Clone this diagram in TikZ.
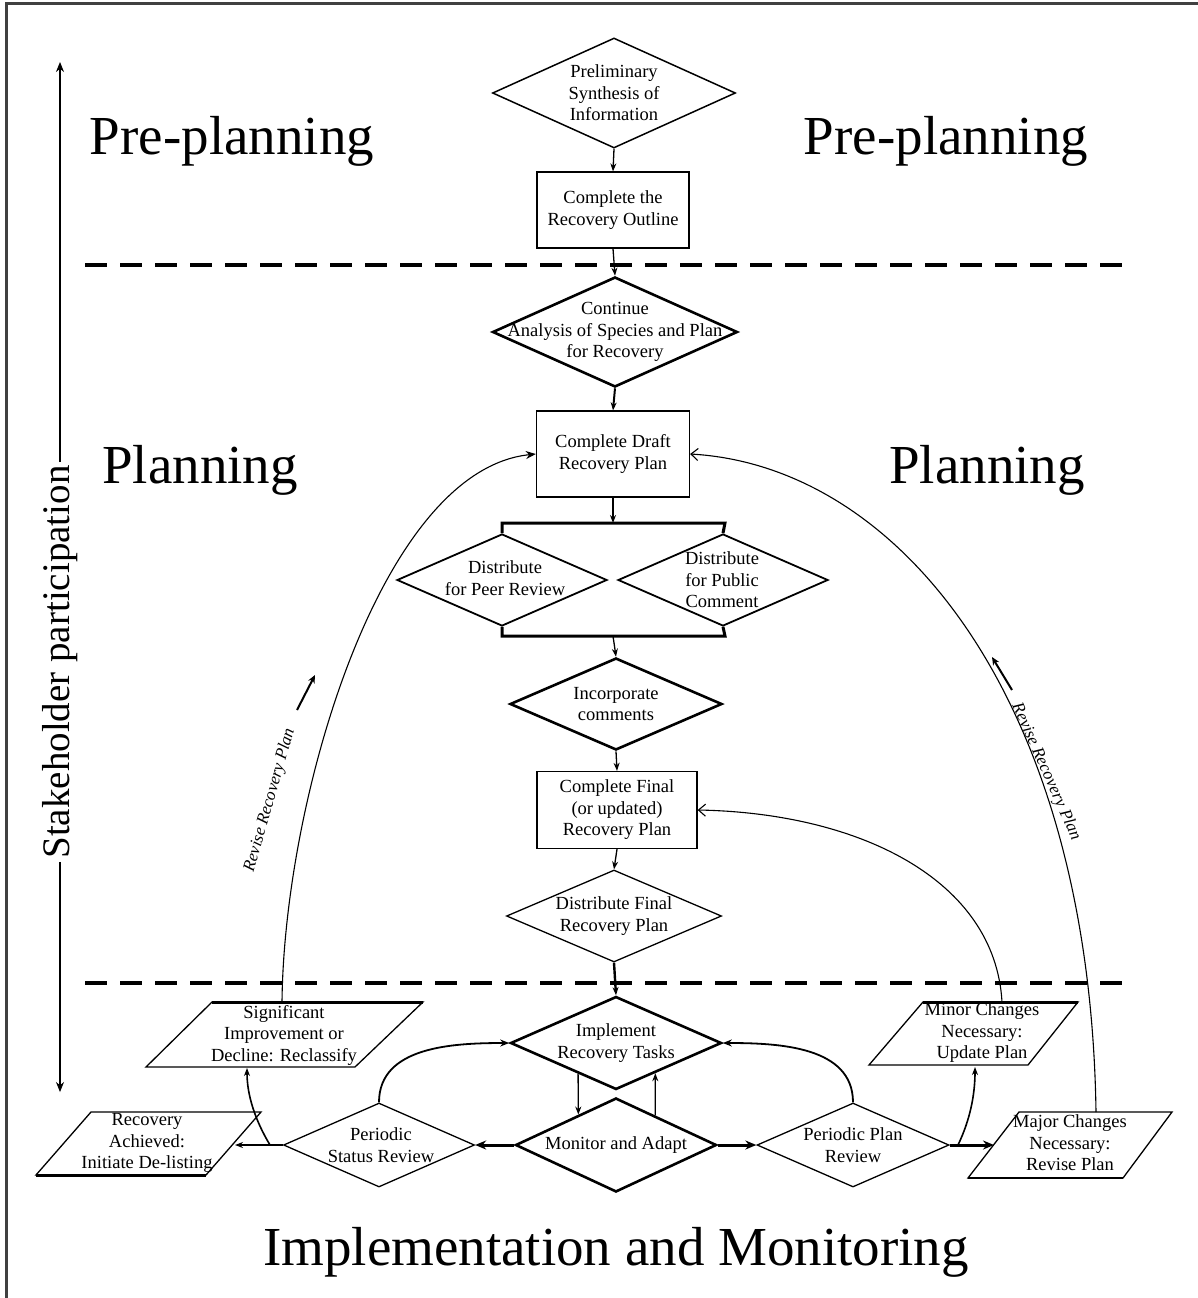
\documentclass[tikz,border=0pt]{standalone}
\usepackage{fontspec}
\setmainfont{Liberation Serif}
\usetikzlibrary{shapes.geometric,arrows.meta,calc}
\begin{document}
\begin{tikzpicture}[x=1pt,y=-1pt,
  lbl/.style={font=\fontsize{18.5}{21.5}\selectfont, align=center, inner sep=0pt},
  big/.style={font=\fontsize{55}{60}\selectfont, inner sep=0pt},
  dia/.style={diamond, draw, inner sep=0pt, line width=1.3pt},
  thickdia/.style={diamond, draw, inner sep=0pt, line width=2.6pt},
  box/.style={rectangle, draw, inner sep=0pt, line width=1.3pt},
  para/.style={draw, line width=1.3pt, line join=miter},
  arr/.style={-{Stealth[length=8pt,width=6pt]}, line width=1.3pt},
  thickarr/.style={-{Stealth[length=11pt,width=9pt]}, line width=3pt},
  curvearr/.style={-{Stealth[length=9pt,width=7pt]}, line width=1.8pt},
  openarr/.style={-{Straight Barb[length=7pt,width=12pt]}, line width=1.1pt},
  longarr/.style={-{Stealth[length=10pt,width=8pt]}, line width=1.1pt},
  barline/.style={line width=3pt},
  dashline/.style={line width=3.5pt, dash pattern=on 22pt off 13pt},
  rev/.style={font=\itshape\fontsize{17}{20}\selectfont, inner sep=0pt}
]
\useasboundingbox (0,0) rectangle (1198,1298);
% frame
\draw[line width=3pt, black!75] (6,1298) -- (6,4) -- (1198,4);
% dashed separators
\draw[dashline] (85,265) -- (1135,265);
\draw[dashline] (85,983) -- (1135,983);
% big titles
\node[big] (pp1) at (232,141) {Pre-planning};
\node[big] (pp2) at (946,141) {Pre-planning};
\node[big] (pl1) at (200,470) {Planning};
\node[big] (pl2) at (987,470) {Planning};
\node[big] (im) at (616,1252) {Implementation and Monitoring};
% stakeholder
\node[font=\fontsize{39}{44}\selectfont, rotate=90, inner sep=3pt] (stake) at (60,662) {Stakeholder participation};
\coordinate (stTop) at (60,62);
\coordinate (stBot) at (60,1092);
\draw[longarr] (stake.east) -- (stTop);
\draw[longarr] (stake.west) -- (stBot);

% main column
\node[dia, line width=1.5pt, minimum width=243pt, minimum height=110pt] (prelim) at (614,93) {};
\node[lbl] (prelimT) at (prelim) {Preliminary\\Synthesis of\\Information};
\node[box, minimum width=152pt, minimum height=76pt] (outline) at (613,210) {};
\node[lbl] (outlineT) at (outline) {Complete the\\Recovery Outline};
\node[thickdia, minimum width=245pt, minimum height=110pt] (cont) at (615,332) {};
\node[lbl] (contT) at (cont) {Continue\\Analysis of Species and Plan\\for Recovery};
\node[box, minimum width=153pt, minimum height=86pt] (draft) at (613,454) {};
\node[lbl] (draftT) at (draft) {Complete Draft\\Recovery Plan};
\node[dia, line width=1.8pt, minimum width=210pt, minimum height=92pt] (peer) at (502,580) {};
\node[lbl] (peerT) at (505,578) {Distribute\\for Peer Review};
\node[dia, line width=1.8pt, minimum width=210pt, minimum height=92pt] (public) at (723,580) {};
\node[lbl] (publicT) at (722,580) {Distribute\\for Public\\Comment};
\node[thickdia, minimum width=212pt, minimum height=92pt] (incorp) at (616,704) {};
\node[lbl] (incorpT) at (incorp) {Incorporate\\comments};
\node[box, minimum width=160pt, minimum height=77pt] (final) at (617,810) {};
\node[lbl] (finalT) at (final) {Complete Final\\(or updated)\\Recovery Plan};
\node[dia, minimum width=215pt, minimum height=92pt] (distf) at (614,916) {};
\node[lbl] (distfT) at (distf) {Distribute Final\\Recovery Plan};
\node[thickdia, minimum width=211pt, minimum height=93pt] (impl) at (616,1043) {};
\node[lbl] (implT) at (616,1043) {Implement\\Recovery Tasks};
\node[thickdia, minimum width=201pt, minimum height=94pt] (mon) at (616,1145) {};
\node[lbl] (monT) at (mon) {Monitor and Adapt};
\node[dia, minimum width=191pt, minimum height=84pt] (psr) at (379,1145) {};
\node[lbl] (psrT) at (381,1145) {Periodic\\Status Review};
\node[dia, minimum width=192pt, minimum height=84pt] (ppr) at (853,1145) {};
\node[lbl] (pprT) at (853,1145) {Periodic Plan\\Review};

% parallelograms
\coordinate (sigTL) at (212,1002); \coordinate (sigTR) at (423,1002);
\coordinate (sigBR) at (355,1067); \coordinate (sigBL) at (146,1067);
\draw[para] (sigTL) -- (sigTR) -- (sigBR) -- (sigBL) -- cycle;
\draw[line width=3pt] (sigTL) -- (sigTR);
\node[lbl] (sigT) at (284,1035) {Significant\\Improvement or\\Decline: Reclassify};

\coordinate (recTL) at (91,1112); \coordinate (recTR) at (261,1112);
\coordinate (recBR) at (206,1175); \coordinate (recBL) at (36,1175);
\draw[para] (recTL) -- (recTR) -- (recBR) -- (recBL) -- cycle;
\draw[line width=3pt] (recBL) -- (recBR);
\node[lbl] (recT) at (147,1143) {Recovery\\Achieved:\\Initiate De-listing};

\coordinate (minTL) at (923,1002); \coordinate (minTR) at (1078,1002);
\coordinate (minBR) at (1028,1065); \coordinate (minBL) at (869,1065);
\draw[para] (minTL) -- (minTR) -- (minBR) -- (minBL) -- cycle;
\draw[line width=3pt] (minTL) -- (minTR);
\node[lbl] (minT) at (982,1033) {Minor Changes\\Necessary:\\Update Plan};

\coordinate (majTL) at (1019,1112); \coordinate (majTR) at (1172,1112);
\coordinate (majBR) at (1123,1178); \coordinate (majBL) at (968,1178);
\draw[para] (majTL) -- (majTR) -- (majBR) -- (majBL) -- cycle;
\draw[line width=2.5pt] (majBL) -- (majBR);
\node[lbl] (majT) at (1070,1143) {Major Changes\\Necessary:\\Revise Plan};

% connectors main column
\draw[arr] (prelim.south) -- (outline.north);
\draw[arr] (outline.south) -- (cont.north);
\draw[arr, line width=2pt] (cont.south) -- (draft.north);
\coordinate (barTL) at (502,523); \coordinate (barTR) at (725,523);
\coordinate (barTM) at (613,523);
\coordinate (barBL) at (502,636); \coordinate (barBR) at (725,636);
\coordinate (barBM) at (613,636);
\draw[arr] (draft.south) -- (barTM);
\draw[barline] (peer.north) -- (barTL) -- (barTR) -- (public.north);
\draw[barline] (peer.south) -- (barBL) -- (barBR) -- (public.south);
\draw[arr] (barBM) -- (incorp.north);
\draw[arr] (incorp.south) -- (final.north);
\draw[arr] (final.south) -- (distf.north);
\draw[arr, line width=2.4pt] (distf.south) -- (impl.north);

% implementation loop
\draw[arr] ($(impl.west)!0.645!(impl.south)$) -- ($(mon.west)!0.63!(mon.north)$);
\draw[arr] ($(mon.north)!0.386!(mon.east)$) -- ($(impl.south)!0.368!(impl.east)$);
\draw[thickarr] (mon.west) -- (psr.east);
\draw[thickarr] (mon.east) -- (ppr.west);
\draw[curvearr] (psr.north) to[out=90,in=180] (impl.west);
\draw[curvearr] (ppr.north) to[out=90,in=0] (impl.east);

% left branch
\coordinate (jl) at (270,1145);
\coordinate (recR) at (235,1145);
\coordinate (sigB) at (247,1068);
\draw[line width=2.2pt] (psr.west) -- (jl);
\draw[arr, line width=1.6pt] (jl) -- (recR);
\draw[arr, line width=1.6pt] (jl) .. controls (255,1120) and (247,1095) .. (sigB);
% right branch
\coordinate (jr) at (958,1145);
\coordinate (majL) at (994,1145);
\coordinate (minB) at (975,1067);
\draw[thickarr] (ppr.east) -- (majL);
\draw[arr, line width=1.6pt] (jr) .. controls (970,1120) and (975,1095) .. (minB);

% big feedback curves
\coordinate (sigTop) at (282,1002);
\coordinate (majTop) at (1096,1112);
\coordinate (minTop) at (1002,1002);
\draw[longarr] (sigTop) .. controls (284,800) and (380,470) .. (draft.west);
\draw[openarr] (majTop) .. controls (1090,700) and (900,466) .. (draft.east);
\draw[openarr] (minTop) .. controls (995,880) and (860,813) .. (final.east);

% revise labels
\node[rev, rotate=74] (revL) at (270,800) {Revise Recovery Plan};
\coordinate (revLa) at (297,710); \coordinate (revLb) at (315,675);
\draw[-{Stealth[length=8pt,width=7pt]}, line width=2pt] (revLa) -- (revLb);
\node[rev, rotate=-66] (revR) at (1046,772) {Revise Recovery Plan};
\coordinate (revRa) at (1012,690); \coordinate (revRb) at (992,657);
\draw[-{Stealth[length=8pt,width=7pt]}, line width=2pt] (revRa) -- (revRb);
\end{tikzpicture}
\end{document}
